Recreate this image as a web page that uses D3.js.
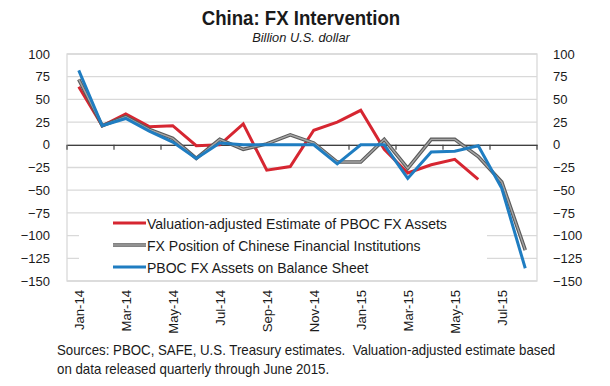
<!DOCTYPE html>
<html><head><meta charset="utf-8">
<script src="https://cdn.jsdelivr.net/npm/d3@7"></script>
<style>
body{margin:0;background:#fff;}
svg text{font-family:"Liberation Sans",Arial,sans-serif;fill:#1a1a1a;}
</style></head>
<body><svg id="c" width="610" height="386"></svg>
<script>
const months = ["Jan-14","Feb-14","Mar-14","Apr-14","May-14","Jun-14","Jul-14","Aug-14","Sep-14","Oct-14","Nov-14","Dec-14",
  "Jan-15","Feb-15","Mar-15","Apr-15","May-15","Jun-15","Jul-15","Aug-15"];
const valuationAdjusted = [64,21,34,20,21,-1,0,23,-28,-24,16,25,38,-5,-31,-22,-16,-38,null,null];
const fxPositionInstitutions = [72,21,31,17,7,-15,6,-5,1,11,2,-19,-19,6,-26,6,6,-13,-41,-116];
const pbocBalanceSheet = [82,21,29,15,3,-15,2,0,0,0,0,-21,0,0,-37,-8,-7,-1,-48,-136];
const yTicks = [100,75,50,25,0,-25,-50,-75,-100,-125,-150];
const seriesNames = ["Valuation-adjusted Estimate of PBOC FX Assets","FX Position of Chinese Financial Institutions","PBOC FX Assets on Balance Sheet"];

const svg = d3.select("#c");
const L=67,R=537,T=54,B=281;
const x = d3.scaleBand().domain(months).range([L,R]);
const y = d3.scaleLinear().domain([-150,100]).range([B,T]);
const cx = m => x(m)+x.bandwidth()/2;

function condense(sel, k){
  sel.each(function(){ const w=this.getComputedTextLength(); d3.select(this).attr("textLength",w*k).attr("lengthAdjust","spacingAndGlyphs"); });
}

// title
svg.append("text").attr("x",301).attr("y",25).attr("text-anchor","middle")
  .style("font-size","20px").style("font-weight","bold").text("China: FX Intervention").call(condense,0.93);
svg.append("text").attr("x",301).attr("y",42).attr("text-anchor","middle")
  .style("font-size","13.5px").style("font-style","italic").text("Billion U.S. dollar").call(condense,0.95);

// grid
svg.append("g").selectAll("line").data(yTicks).join("line")
  .attr("x1",L).attr("x2",R).attr("y1",d=>y(d)).attr("y2",d=>y(d))
  .attr("stroke","#d9d9d9").attr("stroke-width",1.3);
svg.append("rect").attr("x",L).attr("y",T).attr("width",R-L).attr("height",B-T)
  .attr("fill","none").attr("stroke","#d9d9d9").attr("stroke-width",1.3);

// y axes labels
const yl = d3.axisLeft(y).tickValues(yTicks).tickSize(0).tickPadding(17);
const gl = svg.append("g").attr("transform",`translate(${L},0)`).call(yl);
const yr = d3.axisRight(y).tickValues(yTicks).tickSize(0).tickPadding(16);
const gr = svg.append("g").attr("transform",`translate(${R},0)`).call(yr);
[gl,gr].forEach(g=>{g.select(".domain").remove(); g.selectAll("text").style("font-size","13px").style("font-family",null);});

// legend background (covers grid)
svg.append("rect").attr("x",79).attr("y",216).attr("width",408).attr("height",64).attr("fill","#fff");

// zero axis with ticks
const xAxis = d3.axisBottom(x).tickValues([]).tickSize(0);
const gx = svg.append("g").attr("transform",`translate(0,${y(0)})`).call(xAxis);
gx.select(".domain").attr("stroke","#404040").attr("stroke-width",1.2);
const tickPos = months.filter((m,i)=>i%2===0).map(m=>x(m)).concat([R]);
svg.append("g").selectAll("line").data(tickPos).join("line")
  .attr("x1",d=>d).attr("x2",d=>d).attr("y1",y(0)).attr("y2",y(0)+5)
  .attr("stroke","#404040").attr("stroke-width",1.2);

// x labels
svg.append("g").selectAll("text").data(months.filter((m,i)=>i%2===0)).join("text")
  .attr("transform",d=>`translate(${cx(d)+4.8},290) rotate(-90)`)
  .attr("text-anchor","end").style("font-size","13.5px").text(d=>d).call(condense,0.97);

// lines
const line = d3.line().defined(d=>d!=null).x((d,i)=>cx(months[i])).y(d=>y(d));
svg.append("path").datum(valuationAdjusted).attr("d",line).attr("fill","none")
  .attr("stroke","#d62631").attr("stroke-width",3);
svg.append("path").datum(fxPositionInstitutions).attr("d",line).attr("fill","none")
  .attr("stroke","#5a5a5a").attr("stroke-width",3.6);
svg.append("path").datum(fxPositionInstitutions).attr("d",line).attr("fill","none")
  .attr("stroke","#a6a6a6").attr("stroke-width",1.4);
svg.append("path").datum(pbocBalanceSheet).attr("d",line).attr("fill","none")
  .attr("stroke","#1f7dc1").attr("stroke-width",3);

// legend
const lg = svg.append("g");
const ly = [223,245,267];
const lc = [["#d62631"],["#5a5a5a","#a6a6a6"],["#1f7dc1"]];
seriesNames.forEach((n,i)=>{
  lg.append("line").attr("x1",113).attr("x2",146).attr("y1",ly[i]).attr("y2",ly[i])
    .attr("stroke",lc[i][0]).attr("stroke-width",i===1?3.6:3);
  if(i===1) lg.append("line").attr("x1",113).attr("x2",146).attr("y1",ly[i]).attr("y2",ly[i])
    .attr("stroke",lc[i][1]).attr("stroke-width",1.4);
  lg.append("text").attr("x",147).attr("y",ly[i]+5.5).style("font-size","15px").text(n).call(condense,0.935);
});

// footnote
const fn = ["Sources: PBOC, SAFE, U.S. Treasury estimates.  Valuation-adjusted estimate based","on data released quarterly through June 2015."];
svg.append("g").selectAll("text").data(fn).join("text")
  .attr("x",57).attr("y",(d,i)=>355+i*19).style("font-size","14.5px").attr("xml:space","preserve").style("white-space","pre").text(d=>d).call(condense,0.915);
</script></body></html>
